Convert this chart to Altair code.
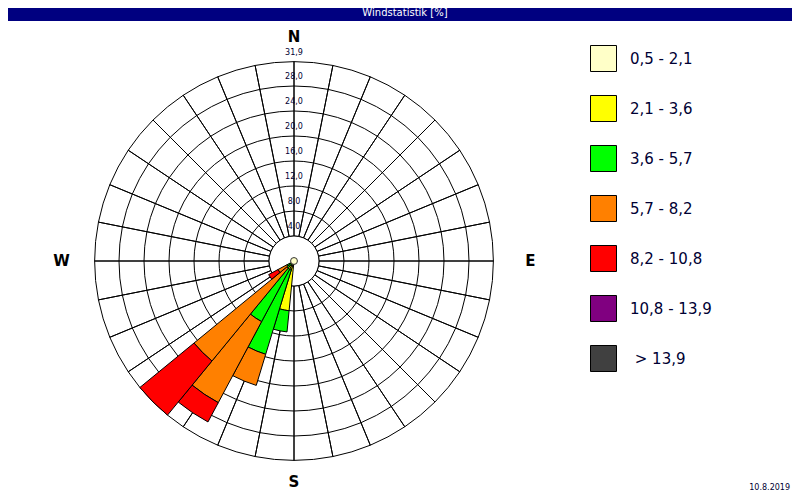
import math
import pandas as pd
import altair as alt

# ---------------- data ----------------
directions = [191.25, 202.5, 213.75, 225.0, 236.25]          # sector centre, degrees
classes = ["0,5 - 2,1", "2,1 - 3,6", "3,6 - 5,7", "5,7 - 8,2",
           "8,2 - 10,8", "10,8 - 13,9", "\u200b\u00a0> 13,9"]
class_colors = ["#FFFFC8", "#FFFF00", "#00FF00", "#FF8000",
                "#FF0000", "#800080", "#404040"]
v_05_21 = [0.4, 0.3, 0.3, 0.2, 0.2]
v_21_36 = [7.6, 1.2, 1.2, 0.5, 0.5]
v_36_57 = [3.4, 14.1, 9.5, 0.8, 0.6]
v_57_82 = [0.0, 5.2, 14.7, 19.2, 1.6]
v_82_108 = [0.0, 0.0, 3.5, 11.2, 1.7]
v_108_139 = [0.0, 0.0, 0.0, 0.0, 0.0]
v_gt_139 = [0.0, 0.0, 0.0, 0.0, 0.0]
calm = [0.55]
ring_values = [4, 8, 12, 16, 20, 24, 28, 31.9]
ring_labels = ["4,0", "8,0", "12,0", "16,0", "20,0", "24,0", "28,0", "31,9"]
sector_width = 11.25
spoke_count = 32
compass_labels = ["N", "E", "S", "W"]
compass_angles = [0, 90, 180, 270]
compass_offsets = [25, 37, 22, 33]     # label distance beyond the outer ring (px)
title_text = ["Windstatistik [%]"]
date_text = ["10.8.2019"]

# ---------------- tables ----------------
series = [v_05_21, v_21_36, v_36_57, v_57_82, v_82_108, v_108_139, v_gt_139]
rows = []
for i, d in enumerate(directions):
    acc = 0.0
    for cls, vals in zip(classes, series):
        v = vals[i]
        if v > 0:
            rows.append({"dir": d, "cls": cls, "r0": acc, "r1": acc + v})
        acc += v
wedge_df = pd.DataFrame(rows)

spoke_df = pd.DataFrame({
    "ang": [i * 360.0 / spoke_count for i in range(spoke_count)],
    "rin": ring_values[0],
    "rout": ring_values[-1],
})
ring_df = pd.DataFrame({"ring": ring_values, "lab": ring_labels})
inner_df = pd.DataFrame({"ring": ring_values[:1]})
calm_df = pd.DataFrame({"calm": calm})
title_df = pd.DataFrame({"t": title_text})
date_df = pd.DataFrame({"t": date_text})

# ---------------- layout constants ----------------
CX, CY = 286, 253
W, H = 784, 484
FONT = "DejaVu Sans"
TXT = "#000033"
rscale = alt.Scale(type="linear", domain=[0, 32], range=[0, 200], zero=True)
half = sector_width / 2

center = dict(x=alt.value(CX), y=alt.value(CY))

spokes = alt.Chart(spoke_df).mark_arc(
    filled=False, stroke="black", strokeWidth=1
).transform_calculate(
    t="datum.ang * PI / 180"
).encode(
    theta=alt.Theta("t:Q", scale=None, stack=None), theta2="t:Q",
    radius=alt.Radius("rout:Q", scale=rscale, stack=None), radius2="rin:Q", **center
)

rings = alt.Chart(ring_df).mark_arc(
    filled=False, stroke="black", strokeWidth=1
).encode(
    theta=alt.value(0), theta2=alt.value(2 * math.pi),
    radius=alt.Radius("ring:Q", scale=rscale, stack=None), **center
)

inner = alt.Chart(inner_df).mark_arc(
    fill="white", stroke="black", strokeWidth=1
).encode(
    theta=alt.value(0), theta2=alt.value(2 * math.pi),
    radius=alt.Radius("ring:Q", scale=rscale, stack=None), **center
)

wedges = alt.Chart(wedge_df).mark_arc(
    stroke="black", strokeWidth=1, opacity=1
).transform_calculate(
    t0=f"(datum.dir - {half}) * PI / 180",
    t1=f"(datum.dir + {half}) * PI / 180",
).encode(
    theta=alt.Theta("t0:Q", scale=None, stack=None), theta2="t1:Q",
    radius=alt.Radius("r1:Q", scale=rscale, stack=None), radius2="r0:Q",
    color=alt.Color(
        "cls:N",
        scale=alt.Scale(domain=classes, range=class_colors),
        legend=alt.Legend(
            title=None, orient="none", legendX=582, legendY=37,
            symbolType="square", symbolSize=676, symbolStrokeColor="black",
            symbolStrokeWidth=1, symbolOpacity=1,
            labelFont=FONT, labelFontSize=15, labelColor=TXT,
            labelOffset=13, rowPadding=19, padding=0, labelLimit=300,
        ),
    ),
    **center
)

calm_layer = alt.Chart(calm_df).mark_arc(
    fill="#FFFFC8", stroke="#333333", strokeWidth=1
).encode(
    theta=alt.value(0), theta2=alt.value(2 * math.pi),
    radius=alt.Radius("calm:Q", scale=rscale, stack=None), **center
)

ring_text = alt.Chart(ring_df).mark_text(
    radiusOffset=9, font=FONT, fontSize=8, color=TXT,
    align="center", baseline="middle"
).encode(
    theta=alt.value(0),
    radius=alt.Radius("ring:Q", scale=rscale, stack=None),
    text="lab:N", **center
)

compass_layers = []
for lab, ang, off in zip(compass_labels, compass_angles, compass_offsets):
    cdf = pd.DataFrame({"lab": [lab], "ang": [ang], "r": [ring_values[-1]]})
    compass_layers.append(
        alt.Chart(cdf).mark_text(
            radiusOffset=off, font=FONT, fontSize=15, fontWeight="bold",
            color="black", align="center", baseline="middle"
        ).transform_calculate(t="datum.ang * PI / 180").encode(
            theta=alt.Theta("t:Q", scale=None, stack=None),
            radius=alt.Radius("r:Q", scale=rscale, stack=None),
            text="lab:N", **center
        )
    )

title_bar = alt.Chart(title_df).mark_rect(color="#000080").encode(
    x=alt.value(-8), x2=alt.value(W + 8), y=alt.value(0), y2=alt.value(13)
)
title_txt = alt.Chart(title_df).mark_text(
    font=FONT, fontSize=10, color="white", align="center", baseline="middle"
).encode(x=alt.value(397), y=alt.value(5), text="t:N")

date_txt = alt.Chart(date_df).mark_text(
    font=FONT, fontSize=8, color=TXT, align="right", baseline="middle"
).encode(x=alt.value(782), y=alt.value(480), text="t:N")

chart = alt.layer(
    spokes, rings, inner, wedges, calm_layer, ring_text, *compass_layers,
    title_bar, title_txt, date_txt
).properties(
    width=W, height=H, padding=0, autosize="none", background="white"
).configure_view(stroke=None)

chart.save("out.html", embed_options={"renderer": "svg", "actions": False})
